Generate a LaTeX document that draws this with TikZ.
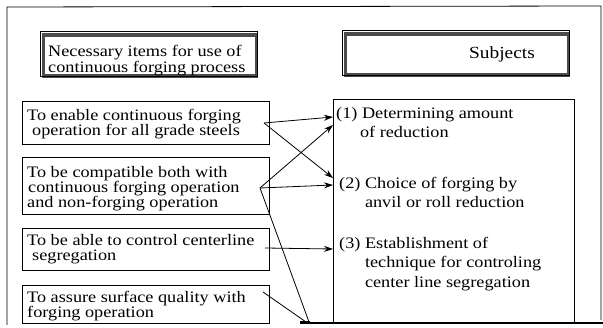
\documentclass[tikz,border=0pt]{standalone}
\usepackage{fontspec}
\setmainfont[FakeStretch=1.14]{Liberation Serif}
\usetikzlibrary{arrows.meta}
\tikzset{
  box/.style={draw, line width=0.9pt, inner sep=0pt, anchor=north west},
  hdr/.style={draw=black!70, line width=3.2pt, inner sep=0pt, anchor=north west},
  hdrline/.style={draw=black, line width=0.6pt, inner sep=0pt, anchor=north west},
  ltxt/.style={anchor=north west, inner sep=0pt, align=left, font=\fontsize{16}{15}\selectfont},
  rtxt/.style={anchor=north west, inner sep=0pt, align=left, font=\fontsize{16}{19.5}\selectfont},
  conn/.style={line width=0.8pt},
  arr/.style={conn, -{Stealth[length=9pt,width=6pt]}},
}
\begin{document}
\begin{tikzpicture}[x=1pt,y=-1pt]
\useasboundingbox (0,0) rectangle (603,328);
% outer frame
\draw[line width=0.8pt] (7,325) -- (7,7) -- (601,6) -- (601,320);
\draw[line width=2pt] (300,323) -- (603,323);
\draw[line width=3pt] (300,323) -- (310,323);
% headers
\node[hdr, minimum width=213pt, minimum height=41pt] (h1) at (41.5,33.5) {};
\node[hdrline, minimum width=217pt, minimum height=45pt] (h1o) at (39.5,31.5) {};
\node[ltxt, font=\fontsize{16}{14.5}\selectfont] (h1t) at (48,45) {Necessary items for use of\\continuous forging process};
\node[hdr, minimum width=223pt, minimum height=41pt] (h2) at (343.5,32.5) {};
\node[hdrline, minimum width=227pt, minimum height=45pt] (h2o) at (341.5,30.5) {};
\node[anchor=base, inner sep=0pt, font=\fontsize{17}{19}\selectfont] (h2t) at (502,59) {Subjects};
% left boxes
\node[box, minimum width=247pt, minimum height=43pt] (bA) at (22,101) {};
\node[ltxt] (tA) at (27,109) {To enable continuous forging\\\hspace*{5pt}operation for all grade steels};
\node[box, minimum width=247pt, minimum height=57pt] (bB) at (22,157) {};
\node[ltxt] (tB) at (27,166) {To be compatible both with\\\hspace*{1pt}continuous forging operation\\and non-forging operation};
\node[box, minimum width=247pt, minimum height=42pt] (bC) at (22,228) {};
\node[ltxt] (tC) at (27,234) {To be able to control centerline\\\hspace*{5pt}segregation};
\node[box, minimum width=247pt, minimum height=38pt] (bD) at (22,285) {};
\node[ltxt] (tD) at (27,291) {To assure surface quality with\\forging operation};
% right box
\node[box, minimum width=241pt, minimum height=224pt] (bR) at (333,99) {};
\node[rtxt] (r1) at (336,107) {(1) Determining amount\\\phantom{(1) }\hspace*{-2pt}of reduction};
\node[rtxt, font=\fontsize{16}{19}\selectfont] (r2) at (339,177) {(2) Choice of forging by\\\phantom{(2) }anvil or roll reduction};
\node[rtxt] (r3) at (339,237) {(3) Establishment of\\\phantom{(3) }technique for controling\\\phantom{(3) }center line segregation};
% connector points
\coordinate (a0) at (264,123);
\coordinate (b0) at (260,188);
\coordinate (c0) at (265,248);
\coordinate (d0) at (263,292);
\coordinate (s1a) at (333,117);
\coordinate (s1b) at (333,125);
\coordinate (s2a) at (333,178);
\coordinate (s2b) at (333,185);
\coordinate (s3) at (333,249);
\coordinate (e1) at (309,322);
\coordinate (e2) at (306,322);
% connectors
\draw[arr] (a0) -- (s1a);
\draw[arr] (a0) -- (s2a);
\draw[arr] (b0) -- (s1b);
\draw[arr] (b0) -- (s2b);
\draw[conn] (b0) -- (e1);
\draw[arr] (c0) -- (s3);
\draw[conn] (d0) -- (e2);
\end{tikzpicture}
\end{document}
